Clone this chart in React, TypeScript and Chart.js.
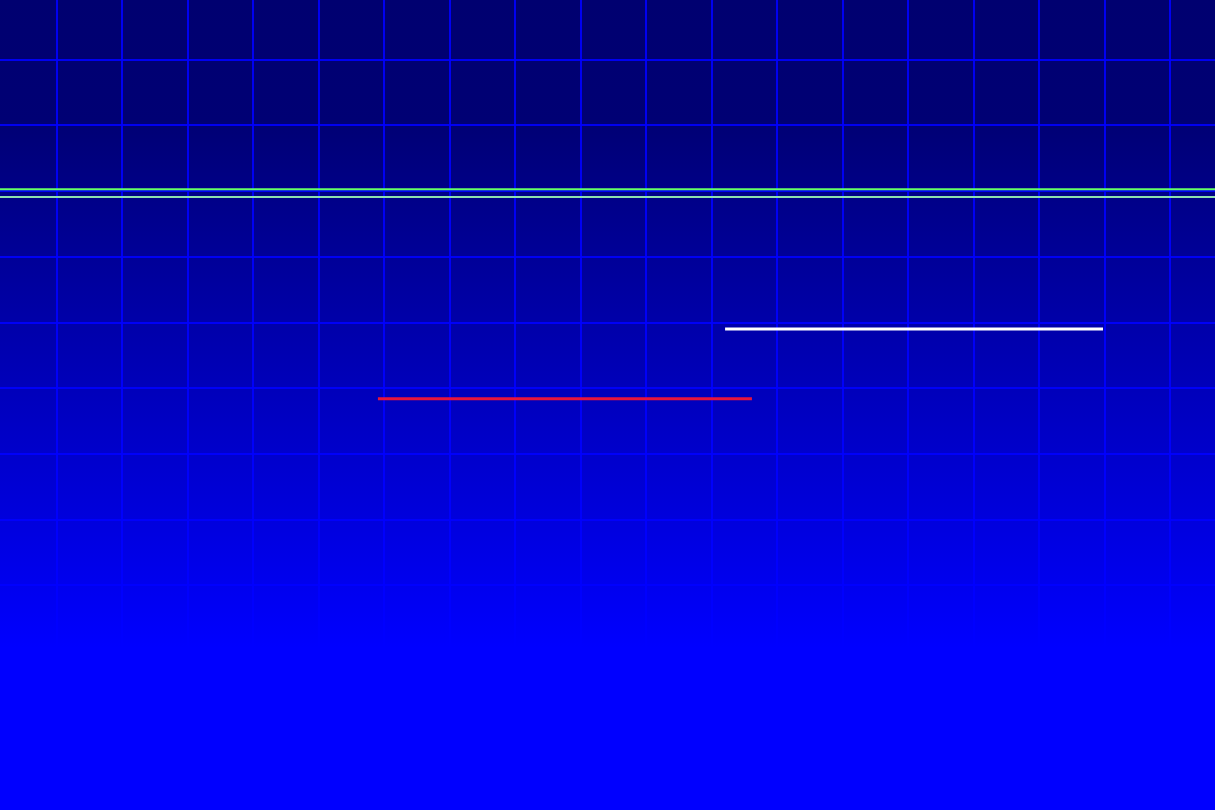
import React, { useEffect, useRef } from 'react';
import { Chart, registerables } from 'chart.js';

Chart.register(...registerables);

// scale ranges (grid ticks fall on whole numbers)
const xRange = [-0.87, 17.68];
const yRange = [-0.42, 11.91];

// level lines: [xStart, xEnd, y]
const upperBand = [-0.87, 17.68, 9.03];
const lowerBand = [-0.87, 17.68, 8.91];
const whiteLevel = [10.2, 15.97, 6.9];
const redLevel = [4.9, 10.61, 5.84];

const seg = (s: number[]) => [
  { x: s[0], y: s[2] },
  { x: s[1], y: s[2] },
];

// only whole-number ticks, no lines on the edges
const wholeTicks = (scale: any) => {
  const ticks = [];
  for (let v = Math.ceil(scale.min); v <= Math.floor(scale.max); v++) ticks.push({ value: v });
  scale.ticks = ticks;
};

const backgroundPlugin = {
  id: 'bgGradient',
  beforeDraw: (chart: Chart) => {
    const { ctx, width, height } = chart;
    const g = ctx.createLinearGradient(0, 0, 0, height);
    g.addColorStop(0, '#000070');
    g.addColorStop(0.15, '#000074');
    g.addColorStop(0.8, '#0000ff');
    g.addColorStop(1, '#0000ff');
    ctx.save();
    ctx.fillStyle = g;
    ctx.fillRect(0, 0, width, height);
    ctx.restore();
  },
};

const App: React.FC = () => {
  const chartRef = useRef<HTMLCanvasElement>(null);
  const chartInstance = useRef<Chart | null>(null);

  useEffect(() => {
    if (!chartRef.current) return;
    if (chartInstance.current) chartInstance.current.destroy();

    const ctx = chartRef.current.getContext('2d');
    if (!ctx) return;

    const line = (data: { x: number; y: number }[], color: string, width: number) => ({
      data,
      borderColor: color,
      borderWidth: width,
      pointRadius: 0,
      fill: false,
    });

    chartInstance.current = new Chart(ctx, {
      type: 'line',
      data: {
        datasets: [
          line(seg(upperBand), '#66ff66', 2),
          line(seg(lowerBand), '#8ee0b0', 2),
          line(seg(whiteLevel), '#ffffff', 3),
          line(seg(redLevel), '#e8143c', 3),
        ],
      },
      options: {
        animation: false,
        responsive: true,
        maintainAspectRatio: false,
        layout: { padding: 0 },
        plugins: {
          legend: { display: false },
          tooltip: { enabled: false },
        },
        scales: {
          x: {
            type: 'linear',
            min: xRange[0],
            max: xRange[1],
            afterBuildTicks: wholeTicks,
            border: { display: false },
            ticks: { display: false },
            grid: { color: 'rgba(0, 0, 255, 0.9)', lineWidth: 2, drawTicks: false },
          },
          y: {
            type: 'linear',
            min: yRange[0],
            max: yRange[1],
            afterBuildTicks: wholeTicks,
            border: { display: false },
            ticks: { display: false },
            grid: { color: 'rgba(0, 0, 255, 0.9)', lineWidth: 2, drawTicks: false },
          },
        },
      },
      plugins: [backgroundPlugin],
    });

    return () => {
      if (chartInstance.current) {
        chartInstance.current.destroy();
        chartInstance.current = null;
      }
    };
  }, []);

  return (
    <div style={{ position: 'fixed', left: 0, top: 0, width: 1215, height: 810 }}>
      <canvas ref={chartRef} />
    </div>
  );
};

export default App;
